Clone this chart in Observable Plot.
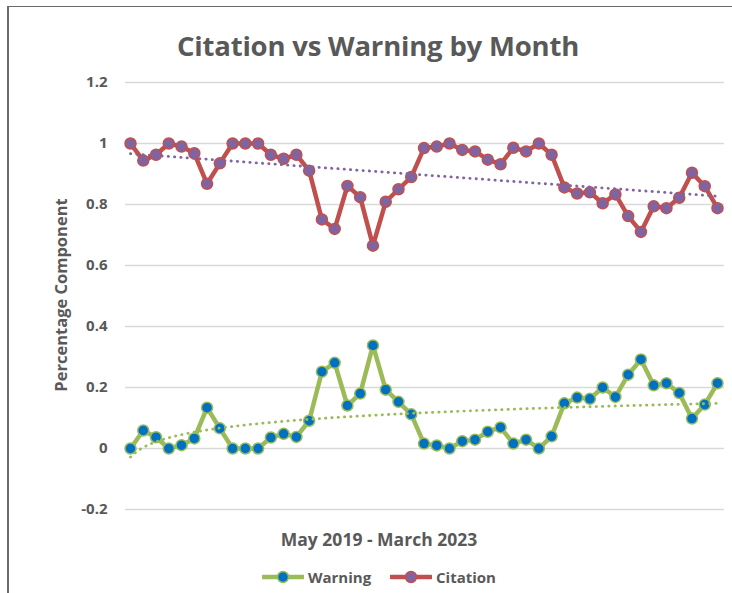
<!DOCTYPE html>
<html>
<head>
<meta charset="utf-8">
<script src="https://cdn.jsdelivr.net/npm/d3@7"></script>
<script src="https://cdn.jsdelivr.net/npm/@observablehq/plot@0.6"></script>
<style>
  body { margin: 0; background: #fff; }
  #wrap { position: relative; width: 732px; height: 593px; overflow: hidden; font-family: "Open Sans", sans-serif; color: #595959; background: #fff; }
  #frame { position: absolute; left: 7px; top: 6px; width: 760px; height: 620px; border-left: 2px solid #6b6b6b; border-top: 1.5px solid #6b6b6b; box-sizing: border-box; }
  #chart { position: absolute; left: 0; top: 0; }
  .txt { position: absolute; font-weight: bold; white-space: nowrap; }
  #title { left: 378px; top: 45px; transform: translate(-50%, -50%); font-size: 27.5px; letter-spacing: -0.2px; }
  #ylab { left: 60px; top: 295px; transform: translate(-50%, -50%) rotate(-90deg); font-size: 16.5px; }
  #xlab { left: 379px; top: 539px; transform: translate(-50%, -50%); font-size: 17.5px; }
  .leg { position: absolute; top: 577px; transform: translateY(-50%); display: flex; align-items: center; font-weight: bold; font-size: 15px; }
  .leg svg { margin-right: 4px; }
</style>
</head>
<body>
<div id="wrap">
  <div id="frame"></div>
  <div id="chart"></div>
  <div class="txt" id="title">Citation vs Warning by Month</div>
  <div class="txt" id="ylab">Percentage Component</div>
  <div class="txt" id="xlab">May 2019 - March 2023</div>
  <div class="leg" id="legW" style="left:262px"></div>
  <div class="leg" id="legC" style="left:390px"></div>
</div>
<script>
// Months May 2019 .. March 2023 (47 months), indexed 1..47
const monthIndex = d3.range(1, 48);

const citation = [
  1.000, 0.944, 0.963, 1.000, 0.990, 0.968, 0.868, 0.935, 1.000, 1.000,
  1.000, 0.963, 0.950, 0.963, 0.911, 0.751, 0.720, 0.861, 0.824, 0.665,
  0.809, 0.850, 0.890, 0.985, 0.990, 1.000, 0.979, 0.974, 0.947, 0.932,
  0.986, 0.974, 1.000, 0.963, 0.856, 0.836, 0.840, 0.804, 0.833, 0.762,
  0.710, 0.794, 0.788, 0.822, 0.904, 0.860, 0.788
];

const warning = [
  0.000, 0.059, 0.037, 0.000, 0.011, 0.033, 0.134, 0.066, 0.000, 0.000,
  0.000, 0.036, 0.048, 0.038, 0.091, 0.252, 0.281, 0.141, 0.180, 0.338,
  0.193, 0.153, 0.112, 0.016, 0.010, 0.000, 0.024, 0.029, 0.055, 0.069,
  0.016, 0.029, 0.000, 0.040, 0.148, 0.167, 0.163, 0.200, 0.169, 0.242,
  0.292, 0.207, 0.214, 0.182, 0.098, 0.144, 0.214
];

const yTicks = [-0.2, 0, 0.2, 0.4, 0.6, 0.8, 1, 1.2];

const colors = {
  citationLine: "#C0504D", citationMarker: "#8064A2",
  warningLine: "#9BBB59", warningMarker: "#0070C0"
};

// Trendlines: linear (Citation), logarithmic (Warning), least squares fit of the data
function fit(xs, ys, tx) {
  const X = xs.map(tx);
  const mx = d3.mean(X), my = d3.mean(ys);
  let sxy = 0, sxx = 0;
  for (let i = 0; i < X.length; i++) { sxy += (X[i]-mx)*(ys[i]-my); sxx += (X[i]-mx)**2; }
  const b = sxy / sxx;
  return x => my + b * (tx(x) - mx);
}
const citFit = fit(monthIndex, citation, x => x);
const warnFit = fit(monthIndex, warning, x => Math.log(x));
const trendX = d3.range(1, 47.0001, 0.25);
const citTrend = trendX.map(x => ({x, y: citFit(x)}));
const warnTrend = trendX.map(x => ({x, y: warnFit(x)}));

const citData = monthIndex.map((m, i) => ({x: m, y: citation[i]}));
const warnData = monthIndex.map((m, i) => ({x: m, y: warning[i]}));

const chart = Plot.plot({
  width: 732,
  height: 593,
  marginLeft: 125,
  marginRight: 8,
  marginTop: 82,
  marginBottom: 84,
  insetLeft: 5,
  insetRight: 7,
  style: { fontFamily: "Open Sans, sans-serif", fontSize: "15px", fontWeight: "bold", color: "#595959", background: "transparent" },
  x: { domain: [1, 47], axis: null },
  y: { domain: [-0.2, 1.2], ticks: yTicks },
  marks: [
    Plot.gridY(yTicks, { stroke: "#d9d9d9", strokeOpacity: 1, strokeWidth: 1.3 }),
    Plot.axisY(yTicks, { tickSize: 0, tickPadding: 18, label: null, tickFormat: d => String(+d.toFixed(1)) }),
    Plot.line(warnData, { x: "x", y: "y", stroke: colors.warningLine, strokeWidth: 4.5, strokeLinejoin: "round" }),
    Plot.dot(warnData, { x: "x", y: "y", r: 5.5, fill: colors.warningMarker, stroke: colors.warningLine, strokeWidth: 1.5 }),
    Plot.line(citData, { x: "x", y: "y", stroke: colors.citationLine, strokeWidth: 4.5, strokeLinejoin: "round" }),
    Plot.dot(citData, { x: "x", y: "y", r: 5.5, fill: colors.citationMarker, stroke: colors.citationLine, strokeWidth: 1.5 }),
    Plot.line(warnTrend, { x: "x", y: "y", stroke: colors.warningLine, strokeWidth: 2.8, strokeLinecap: "round", strokeDasharray: "0.3,6" }),
    Plot.line(citTrend, { x: "x", y: "y", stroke: colors.citationMarker, strokeWidth: 2.8, strokeLinecap: "round", strokeDasharray: "0.3,6" })
  ]
});
document.getElementById("chart").appendChild(chart);

function legendSwatch(line, marker) {
  return `<svg width="42" height="14"><line x1="1" y1="7" x2="41" y2="7" stroke="${line}" stroke-width="4.5" stroke-linecap="round"/><circle cx="21" cy="7" r="5.5" fill="${marker}" stroke="${line}" stroke-width="1.5"/></svg>`;
}
document.getElementById("legW").innerHTML = legendSwatch(colors.warningLine, colors.warningMarker) + "<span>Warning</span>";
document.getElementById("legC").innerHTML = legendSwatch(colors.citationLine, colors.citationMarker) + "<span>Citation</span>";
</script>
</body>
</html>
